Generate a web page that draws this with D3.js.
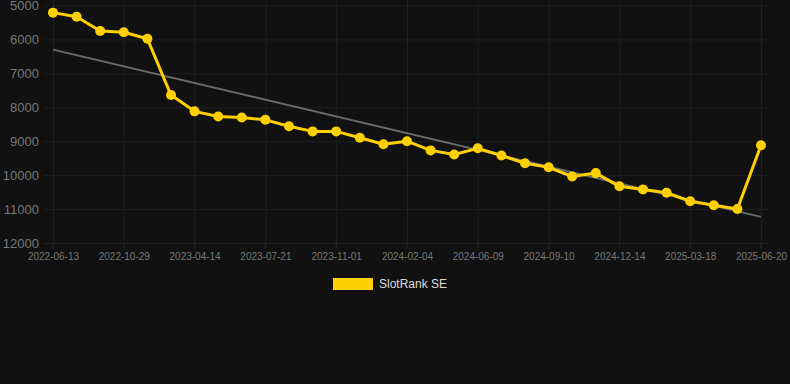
<!DOCTYPE html>
<html>
<head>
<meta charset="utf-8">
<script src="https://cdn.jsdelivr.net/npm/d3@7"></script>
<style>
  html, body { margin: 0; padding: 0; background: #111111; }
  svg { display: block; font-family: "Liberation Sans", Arial, sans-serif; }
</style>
</head>
<body>
<svg id="chart" width="790" height="384"></svg>
<script>
// rank values, one per snapshot (31 snapshots, every 3rd labelled)
const rankValues = [
  5210, 5330, 5750, 5790, 5980, 7640, 8120, 8270, 8300, 8370,
  8560, 8710, 8710, 8900, 9090, 9000, 9270, 9390, 9210, 9420,
  9650, 9770, 10040, 9940, 10330, 10420, 10520, 10770, 10890, 11000,
  9120
];
const tickLabels = [
  '2022-06-13', '2022-10-29', '2023-04-14', '2023-07-21', '2023-11-01', '2024-02-04',
  '2024-06-09', '2024-09-10', '2024-12-14', '2025-03-18', '2025-06-20'
];
const yTicks = [5000, 6000, 7000, 8000, 9000, 10000, 11000, 12000];
const trendValues = [6300, 11230];
const seriesName = 'SlotRank SE';

const COLOR_LINE = '#ffd000';
const COLOR_GRID = '#1f1f1f';
const COLOR_TEXT = '#777777';

const svg = d3.select('#chart');
const g = svg.append('g');

const x = d3.scalePoint()
    .domain(d3.range(rankValues.length))
    .range([53, 761]);

const y = d3.scaleLinear()
    .domain([5000, 12000])
    .range([5.5, 243]);

// horizontal grid + y labels
const yAxis = d3.axisLeft(y)
    .tickValues(yTicks)
    .tickSize(-(770 - 43))
    .tickPadding(4)
    .tickFormat(d => d);
g.append('g')
    .attr('transform', 'translate(43,0)')
    .call(yAxis)
    .call(s => s.select('.domain').remove())
    .call(s => s.selectAll('line').attr('stroke', COLOR_GRID))
    .call(s => s.selectAll('text').attr('fill', COLOR_TEXT).attr('font-size', 13));

// vertical grid + x labels (every 3rd point)
const labelIdx = tickLabels.map((d, i) => i * 3);
const xAxis = d3.axisBottom(x)
    .tickValues(labelIdx)
    .tickSize(-243)
    .tickPadding(10)
    .tickFormat((d, i) => tickLabels[i]);
g.append('g')
    .attr('transform', 'translate(0,243)')
    .call(xAxis)
    .call(s => s.select('.domain').remove())
    .call(s => s.selectAll('line').attr('stroke', COLOR_GRID).attr('y2', -243))
    .call(s => s.selectAll('text').attr('fill', COLOR_TEXT).attr('font-size', 10));

// small tick marks below the axis
g.selectAll('.tk')
    .data(labelIdx)
    .enter().append('line')
    .attr('x1', d => x(d)).attr('x2', d => x(d))
    .attr('y1', 243).attr('y2', 249)
    .attr('stroke', '#2a2a2a');

// trend line
g.append('line')
    .attr('x1', x(0)).attr('y1', y(trendValues[0]))
    .attr('x2', x(rankValues.length - 1)).attr('y2', y(trendValues[1]))
    .attr('stroke', '#6a6a6a')
    .attr('stroke-width', 2);

// series line
const line = d3.line()
    .x((d, i) => x(i))
    .y(d => y(d));
g.append('path')
    .datum(rankValues)
    .attr('d', line)
    .attr('fill', 'none')
    .attr('stroke', COLOR_LINE)
    .attr('stroke-width', 3)
    .attr('stroke-linejoin', 'round');

g.selectAll('.pt')
    .data(rankValues)
    .enter().append('circle')
    .attr('cx', (d, i) => x(i))
    .attr('cy', d => y(d))
    .attr('r', 5)
    .attr('fill', COLOR_LINE);

// legend
const legend = g.append('g');
legend.append('rect')
    .attr('x', 333).attr('y', 278)
    .attr('width', 40).attr('height', 12)
    .attr('fill', COLOR_LINE);
legend.append('text')
    .attr('x', 379).attr('y', 284)
    .attr('dominant-baseline', 'central')
    .attr('fill', '#dddddd')
    .attr('font-size', 12)
    .text(seriesName);
</script>
</body>
</html>
